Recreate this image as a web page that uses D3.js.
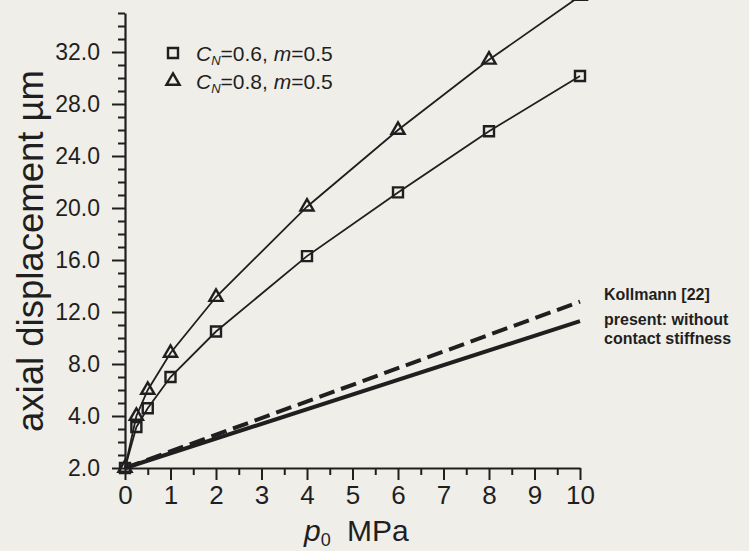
<!DOCTYPE html>
<html>
<head>
<meta charset="utf-8">
<script src="https://cdn.jsdelivr.net/npm/d3@7"></script>
<style>
  html, body { margin: 0; padding: 0; background: #f0eee9; }
  svg { display: block; }
</style>
</head>
<body>
<div id="chart"></div>
<script>
// pressure values p0 (MPa)
const pressures = [0, 0.25, 0.5, 1, 2, 4, 6, 8, 10];
// C_N = 0.6, m = 0.5 (squares)
const cn06 = [0, 3.15, 4.6, 7.0, 10.5, 16.3, 21.2, 25.9, 30.15];
// C_N = 0.8, m = 0.5 (triangles)
const cn08 = [0, 4.0, 6.0, 8.85, 13.15, 20.1, 26.0, 31.4, 36.3];
// Kollmann [22] (dashed) and present without contact stiffness (solid)
const refPressures = [0, 10];
const kollmann = [0, 12.8];
const present = [0, 11.3];

const yTickValues = [0, 4, 8, 12, 16, 20, 24, 28, 32];
const yTickLabels = ['2.0', '4.0', '8.0', '12.0', '16.0', '20.0', '24.0', '28.0', '32.0'];
const xTickValues = [0, 1, 2, 3, 4, 5, 6, 7, 8, 9, 10];
const xTickLabels = ['0', '1', '2', '3', '4', '5', '6', '7', '8', '9', '10'];

const width = 749, height = 551;
const ink = '#1f1f1f';
const font = '"Liberation Sans", Arial, sans-serif';

const svg = d3.select('#chart')
  .append('svg')
  .attr('width', width)
  .attr('height', height);

const x = d3.scaleLinear().domain([0, 10]).range([125, 580]);
const y = d3.scaleLinear().domain([0, 35]).range([468, 13]);

// Y axis, minor tick every 1, major every 4
const yAxis = svg.append('g')
  .attr('transform', `translate(${x(0)},0)`)
  .call(d3.axisLeft(y)
    .tickValues(d3.range(0, 36, 1))
    .tickSize(7)
    .tickSizeOuter(0)
    .tickPadding(18)
    .tickFormat(d => {
      const i = yTickValues.indexOf(d);
      return i >= 0 ? yTickLabels[i] : '';
    }));
yAxis.select('.domain').attr('stroke', ink).attr('stroke-width', 2.2);
yAxis.selectAll('.tick line')
  .attr('stroke', ink)
  .attr('stroke-width', 2)
  .attr('x2', d => yTickValues.includes(d) ? -13 : -7);
yAxis.selectAll('.tick text')
  .attr('fill', ink)
  .style('font-family', font)
  .style('font-size', '23px');

// X axis, minor tick every 0.5
const xAxis = svg.append('g')
  .attr('transform', `translate(0,${y(0)})`)
  .call(d3.axisBottom(x)
    .tickValues(d3.range(0, 10.5, 0.5))
    .tickSize(7)
    .tickSizeOuter(0)
    .tickPadding(11)
    .tickFormat(d => {
      const i = xTickValues.indexOf(d);
      return i >= 0 ? xTickLabels[i] : '';
    }));
xAxis.select('.domain').attr('stroke', ink).attr('stroke-width', 2.2);
xAxis.selectAll('.tick line')
  .attr('stroke', ink)
  .attr('stroke-width', 2)
  .attr('y2', d => xTickValues.includes(d) ? 12 : 7);
xAxis.selectAll('.tick text')
  .attr('fill', ink)
  .style('font-family', font)
  .style('font-size', '26px');

// reference lines
const refLine = d3.line()
  .x(d => x(d[0]))
  .y(d => y(d[1]));

svg.append('path')
  .datum(refPressures.map((p, i) => [p, present[i]]))
  .attr('d', refLine)
  .attr('fill', 'none')
  .attr('stroke', ink)
  .attr('stroke-width', 4);

svg.append('path')
  .datum(refPressures.map((p, i) => [p, kollmann[i]]))
  .attr('d', refLine)
  .attr('fill', 'none')
  .attr('stroke', ink)
  .attr('stroke-width', 4)
  .attr('stroke-dasharray', '16,7');

// FE series
const series = [
  {name: 'cn06', values: cn06, marker: 'square'},
  {name: 'cn08', values: cn08, marker: 'triangle'}
];

const line = d3.line()
  .x(d => x(d[0]))
  .y(d => y(d[1]));

const sq = d3.symbol().type(d3.symbolSquare).size(100);
const tri = d3.symbol().type(d3.symbolTriangle).size(75);

series.forEach(s => {
  const pts = pressures.map((p, i) => [p, s.values[i]]);
  svg.append('path')
    .datum(pts)
    .attr('d', line)
    .attr('fill', 'none')
    .attr('stroke', ink)
    .attr('stroke-width', 1.8);

  svg.append('g')
    .selectAll('path')
    .data(pts)
    .enter()
    .append('path')
    .attr('transform', d => `translate(${x(d[0])},${y(d[1])})`)
    .attr('d', s.marker === 'square' ? sq : tri)
    .attr('fill', 'none')
    .attr('stroke', ink)
    .attr('stroke-width', 2.4);
});

// legend, top left
const legend = [
  {marker: 'square', cn: '0.6', m: '0.5'},
  {marker: 'triangle', cn: '0.8', m: '0.5'}
];
const lg = svg.append('g');
legend.forEach((d, i) => {
  const ly = 53 + i * 28;
  lg.append('path')
    .attr('transform', `translate(173,${ly})`)
    .attr('d', d.marker === 'square' ? sq : tri)
    .attr('fill', 'none')
    .attr('stroke', ink)
    .attr('stroke-width', 2.4);
  const t = lg.append('text')
    .attr('x', 196)
    .attr('y', ly + 8)
    .attr('fill', ink)
    .style('font-family', font)
    .style('font-size', '21px');
  t.append('tspan').style('font-style', 'italic').text('C');
  t.append('tspan').style('font-style', 'italic').style('font-size', '13px').attr('dy', 4).text('N');
  t.append('tspan').attr('dy', -4).text(`=${d.cn}, `);
  t.append('tspan').style('font-style', 'italic').text('m');
  t.append('tspan').text(`=${d.m}`);
});

// legend, right side
const rightLabels = ['Kollmann [22]', 'present: without', 'contact stiffness'];
const rightY = [300, 325, 344];
svg.append('g')
  .selectAll('text')
  .data(rightLabels)
  .enter()
  .append('text')
  .attr('x', 604)
  .attr('y', (d, i) => rightY[i])
  .attr('fill', ink)
  .style('font-family', font)
  .style('font-weight', 'bold')
  .style('font-size', '16px')
  .text(d => d);

// axis titles
const xt = svg.append('text')
  .attr('x', 304)
  .attr('y', 541)
  .attr('fill', ink)
  .style('font-family', font)
  .style('font-size', '30px');
xt.append('tspan').style('font-style', 'italic').text('p');
xt.append('tspan').style('font-size', '18px').attr('dy', 5).text('0');
xt.append('tspan').attr('dy', -5).attr('x', 347).text('MPa');

svg.append('text')
  .attr('transform', 'translate(43,251) rotate(-90)')
  .attr('text-anchor', 'middle')
  .attr('fill', ink)
  .attr('textLength', 362)
  .attr('lengthAdjust', 'spacingAndGlyphs')
  .style('font-family', font)
  .style('font-size', '37px')
  .text('axial displacement \u00b5m');
</script>
</body>
</html>
